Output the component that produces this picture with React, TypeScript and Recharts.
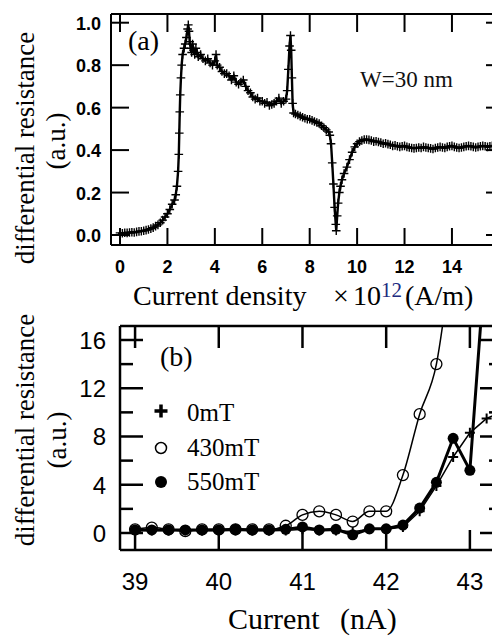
import React from 'react';
import { LineChart, Line, XAxis, YAxis } from 'recharts';

// ---------- Panel (a) data ----------
const densityX = [
  0.0, 0.1, 0.2, 0.3, 0.4, 0.5, 0.6, 0.7, 0.8, 0.9, 1.0, 1.1, 1.2, 1.3, 1.4, 1.5, 1.6, 1.7, 1.8, 1.9, 2.0,
  2.1, 2.2, 2.3, 2.35, 2.4, 2.45, 2.48, 2.5, 2.52, 2.54, 2.57, 2.6, 2.64, 2.7, 2.75, 2.8, 2.85, 2.88, 2.91,
  2.94, 2.98, 3.02, 3.06, 3.1, 3.15, 3.2, 3.25, 3.3, 3.4, 3.5, 3.6, 3.7, 3.8, 3.9, 4.0, 4.05, 4.1, 4.2, 4.3,
  4.4, 4.5, 4.6, 4.7, 4.8, 4.9, 5.0, 5.1, 5.2, 5.3, 5.4, 5.5, 5.6, 5.7, 5.8, 5.9, 6.0, 6.1, 6.2, 6.3,
  6.4, 6.5, 6.6, 6.7, 6.8, 6.9, 7.0, 7.05, 7.1, 7.15, 7.19, 7.22, 7.25, 7.28, 7.32, 7.4, 7.5, 7.6, 7.7, 7.8,
  7.9, 8.0, 8.1, 8.2, 8.3, 8.4, 8.5, 8.6, 8.7, 8.8, 8.85, 8.9, 8.95, 9.0, 9.05, 9.1, 9.12, 9.16, 9.2, 9.25,
  9.3, 9.36, 9.45, 9.57, 9.68, 9.79, 9.9, 10.0, 10.1, 10.2, 10.3, 10.4, 10.5, 10.6, 10.7, 10.8, 10.9, 11.0,
  11.1, 11.2, 11.3, 11.4, 11.5, 11.6, 11.7, 11.8, 11.9, 12.0, 12.1, 12.2, 12.3, 12.4, 12.5, 12.6, 12.7, 12.8,
  12.9, 13.0, 13.1, 13.2, 13.3, 13.4, 13.5, 13.6, 13.7, 13.8, 13.9, 14.0, 14.1, 14.2, 14.3, 14.4, 14.5, 14.6,
  14.7, 14.8, 14.9, 15.0, 15.1, 15.2, 15.3, 15.4, 15.5, 15.6, 15.7, 15.8, 15.9,
];
const resistanceA = [
  0.010, 0.008, 0.011, 0.010, 0.012, 0.013, 0.012, 0.015, 0.017, 0.018, 0.020, 0.023, 0.026, 0.030, 0.035, 0.042, 0.048, 0.058, 0.070, 0.085, 0.100,
  0.120, 0.145, 0.165, 0.19, 0.23, 0.30, 0.38, 0.48, 0.58, 0.66, 0.74, 0.80, 0.85, 0.88, 0.90, 0.93, 0.97, 0.99, 0.96,
  0.91, 0.88, 0.86, 0.90, 0.87, 0.85, 0.88, 0.86, 0.84, 0.85, 0.83, 0.82, 0.83, 0.81, 0.80, 0.82, 0.85, 0.80, 0.79, 0.77,
  0.76, 0.76, 0.75, 0.73, 0.75, 0.72, 0.71, 0.72, 0.73, 0.70, 0.68, 0.67, 0.65, 0.64, 0.645, 0.63, 0.63, 0.62, 0.625, 0.61,
  0.615, 0.62, 0.63, 0.645, 0.62, 0.63, 0.64, 0.68, 0.78, 0.89, 0.94, 0.87, 0.74, 0.62, 0.575, 0.57, 0.565, 0.56, 0.555, 0.55,
  0.545, 0.545, 0.54, 0.535, 0.53, 0.525, 0.515, 0.505, 0.495, 0.485, 0.47, 0.43, 0.34, 0.24, 0.13, 0.05, 0.02, 0.09, 0.15, 0.20,
  0.23, 0.26, 0.29, 0.32, 0.355, 0.39, 0.415, 0.43, 0.44, 0.445, 0.45, 0.45, 0.448, 0.445, 0.44, 0.442, 0.438, 0.435,
  0.43, 0.432, 0.428, 0.425, 0.42, 0.422, 0.418, 0.415, 0.418, 0.42, 0.415, 0.412, 0.41, 0.408, 0.41, 0.412, 0.41, 0.415,
  0.412, 0.41, 0.408, 0.405, 0.41, 0.412, 0.415, 0.412, 0.41, 0.415, 0.418, 0.42, 0.415, 0.412, 0.41, 0.412, 0.415, 0.418,
  0.42, 0.418, 0.415, 0.412, 0.415, 0.418, 0.42, 0.418, 0.415, 0.418, 0.42, 0.418, 0.42,
];
const densityTicks = [0, 2, 4, 6, 8, 10, 12, 14];
const resistanceTicksA = [0, 0.2, 0.4, 0.6, 0.8, 1.0];

// ---------- Panel (b) data ----------
const currentB = [
  39.0, 39.2, 39.4, 39.6, 39.8, 40.0, 40.2, 40.4, 40.6, 40.8, 41.0, 41.2,
  41.4, 41.6, 41.8, 42.0, 42.2, 42.4, 42.6, 42.8, 43.0, 43.2, 43.4,
];
const r0mT = [
  0.2, 0.2, 0.2, 0.2, 0.2, 0.2, 0.2, 0.2, 0.2, 0.2, 0.3, 0.2,
  0.2, 0.1, 0.3, 0.3, 0.5, 1.8, 3.9, 6.3, 8.3, 9.5, 10.1,
];
const r430mT = [
  0.3, 0.45, 0.3, 0.15, 0.3, 0.3, 0.3, 0.3, 0.3, 0.6, 1.5, 1.8,
  1.5, 0.95, 1.8, 1.8, 4.8, 9.85, 14.0, 24, null, null, null,
];
const r550mT = [
  0.25, 0.25, 0.25, 0.25, 0.25, 0.25, 0.3, 0.25, 0.25, 0.3, 0.5, 0.25,
  0.3, -0.15, 0.35, 0.35, 0.66, 2.07, 4.2, 7.85, 5.2, 24, null,
];
const currentTicks = [39, 40, 41, 42, 43];
const resistanceTicksB = [0, 2, 4, 6, 8, 10, 12, 14, 16];
const legendLabels = ['0mT', '430mT', '550mT'];

const dataA = densityX.map((x, i) => ({ x, r: resistanceA[i] }));
const dataB = currentB.map((x, i) => ({ x, p0: r0mT[i], p430: r430mT[i], p550: r550mT[i] }));

const SANS = "'Liberation Sans', Arial, sans-serif";
const SERIF = "'Liberation Serif', 'Times New Roman', serif";

const plusPath = (cx: number, cy: number, r: number) => `M${cx - r},${cy}H${cx + r}M${cx},${cy - r}V${cy + r}`;

// ---------- custom ticks ----------
const tickBottomA = (p: any) => (
  <g>
    <line x1={p.x} y1={p.y} x2={p.x} y2={p.y - 17} stroke="#000" strokeWidth={2} />
    <text x={p.x} y={p.y + 28} textAnchor="middle" fontFamily={SANS} fontWeight="bold" fontSize={18} fill="#000">
      {p.payload.value}
    </text>
  </g>
);
const tickTopA = (p: any) => (
  <line x1={p.x} y1={p.y} x2={p.x} y2={p.y + 18} stroke="#000" strokeWidth={2} />
);
const tickLeftA = (p: any) => (
  <g>
    <line x1={p.x} y1={p.y} x2={p.x + 18} y2={p.y} stroke="#000" strokeWidth={2} />
    <text x={p.x - 10} y={p.y + 7} textAnchor="end" fontFamily={SANS} fontWeight="bold" fontSize={18} fill="#000">
      {Number(p.payload.value).toFixed(1)}
    </text>
  </g>
);
const tickRightA = (p: any) => (
  <line x1={p.x} y1={p.y} x2={p.x - 11} y2={p.y} stroke="#000" strokeWidth={2} />
);

const tickBottomB = (p: any) => (
  <g>
    <line x1={p.x} y1={p.y} x2={p.x} y2={p.y - 20} stroke="#000" strokeWidth={2.5} />
    <text x={p.x} y={p.y + 40} textAnchor="middle" fontFamily={SANS} fontSize={24} fill="#000">
      {p.payload.value}
    </text>
  </g>
);
const tickTopB = (p: any) => (
  <line x1={p.x} y1={p.y} x2={p.x} y2={p.y + 22} stroke="#000" strokeWidth={2.5} />
);
const tickLeftB = (p: any) => {
  const v = p.payload.value;
  const major = v % 4 === 0;
  return (
    <g>
      <line x1={p.x} y1={p.y} x2={p.x + (major ? 23 : 13)} y2={p.y} stroke="#000" strokeWidth={2.5} />
      {major ? (
        <text x={p.x - 14} y={p.y + 9} textAnchor="end" fontFamily={SANS} fontSize={24} fill="#000">
          {v}
        </text>
      ) : null}
    </g>
  );
};
const tickRightB = (p: any) => {
  const major = p.payload.value % 4 === 0;
  return <line x1={p.x} y1={p.y} x2={p.x - (major ? 15 : 6)} y2={p.y} stroke="#000" strokeWidth={2.5} />;
};

// ---------- dots ----------
const plusDotA = (p: any) => {
  if (p.cx == null || p.cy == null) return <g key={`a${p.index}`} />;
  return <path key={`a${p.index}`} d={plusPath(p.cx, p.cy, 4.3)} stroke="#000" strokeWidth={1.4} fill="none" />;
};
const plusDotB = (p: any) => {
  if (p.cx == null || p.cy == null || p.value == null) return <g key={`p${p.index}`} />;
  return <path key={`p${p.index}`} d={plusPath(p.cx, p.cy, 5)} stroke="#000" strokeWidth={2} fill="none" />;
};
const openDot = (p: any) => {
  if (p.cx == null || p.cy == null || p.value == null) return <g key={`o${p.index}`} />;
  return <circle key={`o${p.index}`} cx={p.cx} cy={p.cy} r={5.5} stroke="#000" strokeWidth={1.3} fill="none" />;
};
const filledDot = (p: any) => {
  if (p.cx == null || p.cy == null || p.value == null) return <g key={`f${p.index}`} />;
  return <circle key={`f${p.index}`} cx={p.cx} cy={p.cy} r={5.5} fill="#000" stroke="none" />;
};

const axisLine = { stroke: '#000', strokeWidth: 2 };
const axisLineB = { stroke: '#000', strokeWidth: 2.5 };

export default function App() {
  return (
    <div style={{ position: 'absolute', left: 0, top: 0, width: 492, height: 636, overflow: 'hidden', background: '#fff' }}>
      {/* Panel (a) */}
      <div style={{ position: 'absolute', left: 0, top: 0 }}>
        <LineChart width={520} height={300} data={dataA} margin={{ top: 13, right: 22, bottom: 0, left: 0 }}>
          <XAxis xAxisId="b" dataKey="x" type="number" domain={[-0.38, 15.9]} allowDataOverflow ticks={densityTicks}
            interval={0} height={55} tickSize={0} tickMargin={0} tickLine={false} axisLine={axisLine} tick={tickBottomA} />
          <XAxis xAxisId="t" orientation="top" dataKey="x" type="number" domain={[-0.38, 15.9]} allowDataOverflow ticks={densityTicks}
            interval={0} height={1} tickSize={0} tickMargin={0} tickLine={false} axisLine={axisLine} tick={tickTopA} />
          <YAxis yAxisId="l" type="number" domain={[-0.047, 1.041]} allowDataOverflow ticks={resistanceTicksA}
            interval={0} width={111} tickSize={0} tickMargin={0} tickLine={false} axisLine={axisLine} tick={tickLeftA} />
          <YAxis yAxisId="r" orientation="right" type="number" domain={[-0.047, 1.041]} allowDataOverflow ticks={resistanceTicksA}
            interval={0} width={1} tickSize={0} tickMargin={0} tickLine={false} axisLine={axisLine} tick={tickRightA} />
          <Line xAxisId="b" yAxisId="l" dataKey="r" type="linear" stroke="#000" strokeWidth={2.4}
            dot={plusDotA} activeDot={false} isAnimationActive={false} />
        </LineChart>
      </div>

      {/* Panel (b) */}
      <div style={{ position: 'absolute', left: 0, top: 300 }}>
        <LineChart width={520} height={336} data={dataB} margin={{ top: 25, right: 24, bottom: 0, left: 0 }}>
          <XAxis xAxisId="b" dataKey="x" type="number" domain={[38.82, 43.3]} allowDataOverflow ticks={currentTicks}
            interval={0} height={86} tickSize={0} tickMargin={0} tickLine={false} axisLine={axisLineB} tick={tickBottomB} />
          <XAxis xAxisId="t" orientation="top" dataKey="x" type="number" domain={[38.82, 43.3]} allowDataOverflow ticks={currentTicks}
            interval={0} height={1} tickSize={0} tickMargin={0} tickLine={false} axisLine={axisLineB} tick={tickTopB} />
          <YAxis yAxisId="l" type="number" domain={[-1.41, 17.16]} allowDataOverflow ticks={resistanceTicksB}
            interval={0} width={120} tickSize={0} tickMargin={0} tickLine={false} axisLine={axisLineB} tick={tickLeftB} />
          <YAxis yAxisId="r" orientation="right" type="number" domain={[-1.41, 17.16]} allowDataOverflow ticks={resistanceTicksB}
            interval={0} width={1} tickSize={0} tickMargin={0} tickLine={false} axisLine={axisLineB} tick={tickRightB} />
          <Line xAxisId="b" yAxisId="l" dataKey="p0" type="linear" stroke="#000" strokeWidth={1.5}
            dot={plusDotB} activeDot={false} isAnimationActive={false} />
          <Line xAxisId="b" yAxisId="l" dataKey="p430" type="monotone" stroke="#000" strokeWidth={1.5}
            dot={openDot} activeDot={false} isAnimationActive={false} />
          <Line xAxisId="b" yAxisId="l" dataKey="p550" type="linear" stroke="#000" strokeWidth={3}
            dot={filledDot} activeDot={false} isAnimationActive={false} />
        </LineChart>
      </div>

      {/* Text overlay */}
      <svg width={492} height={636} style={{ position: 'absolute', left: 0, top: 0, pointerEvents: 'none' }}>
        {/* panel (a) */}
        <text x={128} y={50} fontFamily={SERIF} fontSize={28} fill="#000">(a)</text>
        <text x={360} y={87} fontFamily={SERIF} fontSize={23} fill="#111">W=30 nm</text>
        <text x={34} y={148} transform="rotate(-90 34 148)" textAnchor="middle" fontFamily={SERIF} fontSize={27} fill="#000">
          differential resistance
        </text>
        <text x={65} y={141} transform="rotate(-90 65 141)" textAnchor="middle" fontFamily={SERIF} fontSize={27} fill="#000">
          (a.u.)
        </text>
        <text x={133} y={305} fontFamily={SERIF} fontSize={28} fill="#000">Current density</text>
        <text x={333} y={305} fontFamily={SERIF} fontSize={28} fill="#000">×</text>
        <text x={353} y={305} fontFamily={SERIF} fontSize={28} fill="#000">10</text>
        <text x={381} y={297} fontFamily={SERIF} fontSize={21} fill="#202a80">12</text>
        <text x={405} y={305} fontFamily={SERIF} fontSize={28} fill="#000">(A/m)</text>

        {/* panel (b) */}
        <text x={160} y={366} fontFamily={SERIF} fontSize={28} fill="#000">(b)</text>
        <path d={plusPath(161, 411, 6.5)} stroke="#000" strokeWidth={3.5} fill="none" />
        <circle cx={161} cy={448} r={5.5} stroke="#000" strokeWidth={1.5} fill="none" />
        <circle cx={161} cy={482} r={6} fill="#000" />
        <text x={187} y={421} fontFamily={SERIF} fontSize={25} fill="#000">{legendLabels[0]}</text>
        <text x={187} y={456} fontFamily={SERIF} fontSize={25} fill="#000">{legendLabels[1]}</text>
        <text x={187} y={490} fontFamily={SERIF} fontSize={25} fill="#000">{legendLabels[2]}</text>
        <text x={34} y={430} transform="rotate(-90 34 430)" textAnchor="middle" fontFamily={SERIF} fontSize={27} fill="#000">
          differential resistance
        </text>
        <text x={66} y={440} transform="rotate(-90 66 440)" textAnchor="middle" fontFamily={SERIF} fontSize={27} fill="#000">
          (a.u.)
        </text>
        <text x={228} y={629} fontFamily={SERIF} fontSize={30} fill="#000">Current</text>
        <text x={340} y={629} fontFamily={SERIF} fontSize={30} fill="#000">(nA)</text>
      </svg>
    </div>
  );
}
